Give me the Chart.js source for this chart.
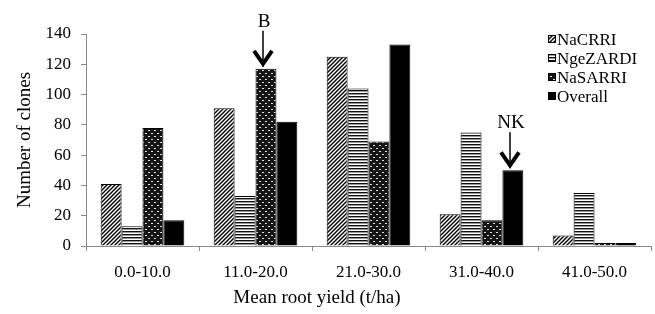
<!DOCTYPE html>
<html>
<head>
<meta charset="utf-8">
<script src="https://cdn.jsdelivr.net/npm/chart.js@4/dist/chart.umd.min.js"></script>
<style>
  html, body { margin: 0; padding: 0; background: #fff; }
  #wrap { width: 655px; height: 314px; }
</style>
</head>
<body>
<div id="wrap"><canvas id="grafico" width="655" height="314"></canvas></div>
<script>
// Datos
const categorias = ["0.0-10.0", "11.0-20.0", "21.0-30.0", "31.0-40.0", "41.0-50.0"];
const nacrri = [41, 91, 125, 21, 7];
const ngezardi = [13, 33, 104, 75, 35];
const nasarri = [78, 117, 69, 17, 2];
const overall = [17, 82, 133, 50, 2];
const series = ["NaCRRI", "NgeZARDI", "NaSARRI", "Overall"];
// Flechas: [serie, categoria, texto]
const flechas = [[2, 1, "B"], [3, 3, "NK"]];

const FUENTE = "'Liberation Serif', 'Times New Roman', serif";

// Patrones de relleno (rayas, lineas, puntos)
function patronDiagonal() {
    const c = document.createElement("canvas");
    c.width = 4; c.height = 4;
    const g = c.getContext("2d");
    g.fillStyle = "#fff";
    g.fillRect(0, 0, 4, 4);
    g.strokeStyle = "#000";
    g.lineWidth = 1.4;
    g.beginPath();
    g.moveTo(-1, 5); g.lineTo(5, -1);
    g.moveTo(-1, 1); g.lineTo(1, -1);
    g.moveTo(3, 5); g.lineTo(5, 3);
    g.stroke();
    return g.createPattern(c, "repeat");
}

function patronHorizontal() {
    const c = document.createElement("canvas");
    c.width = 4; c.height = 3;
    const g = c.getContext("2d");
    g.fillStyle = "#fff";
    g.fillRect(0, 0, 4, 3);
    g.fillStyle = "#111";
    g.fillRect(0, 0, 4, 1);
    g.fillStyle = "#999";
    g.fillRect(0, 1, 4, 1);
    return g.createPattern(c, "repeat");
}

function patronPuntos() {
    const c = document.createElement("canvas");
    c.width = 6; c.height = 6;
    const g = c.getContext("2d");
    g.fillStyle = "#151515";
    g.fillRect(0, 0, 6, 6);
    g.fillStyle = "#e0e0e0";
    g.fillRect(1, 1, 2, 1);
    g.fillRect(4, 4, 2, 1);
    return g.createPattern(c, "repeat");
}

const ctx = document.getElementById("grafico").getContext("2d");
const rellenos = [patronDiagonal(), patronHorizontal(), patronPuntos(), "#000"];
const valores = [nacrri, ngezardi, nasarri, overall];

// Leyenda, titulo del eje x y flechas dibujadas a mano
const extras = {
    id: "extras",
    afterDraw(chart) {
        const g = chart.ctx;
        g.save();
        g.fillStyle = "#000";
        g.font = "19px " + FUENTE;
        g.textAlign = "center";
        g.textBaseline = "middle";
        g.fillText("Mean root yield (t/ha)", 317, 298);

        // leyenda
        g.font = "17px " + FUENTE;
        g.textAlign = "left";
        series.forEach((nombre, i) => {
            const y = 40 + i * 19;
            g.fillStyle = rellenos[i];
            g.fillRect(548, y - 5, 8, 8);
            g.strokeStyle = "#000";
            g.lineWidth = 1;
            g.strokeRect(548.5, y - 4.5, 7, 7);
            g.fillStyle = "#000";
            g.fillText(nombre, 557, y + 1);
        });

        // flechas
        flechas.forEach(([s, c, texto]) => {
            const bar = chart.getDatasetMeta(s).data[c];
            const x = Math.round(bar.x) - 3;
            const tip = bar.y - 2;
            g.strokeStyle = "#000";
            g.fillStyle = "#000";
            g.lineWidth = 1.5;
            g.beginPath();
            g.moveTo(x, tip - 36);
            g.lineTo(x, tip);
            g.stroke();
            g.lineWidth = 4;
            g.beginPath();
            g.moveTo(x - 9, tip - 16);
            g.lineTo(x, tip - 3);
            g.lineTo(x + 9, tip - 16);
            g.stroke();
            g.font = "19px " + FUENTE;
            g.textAlign = "center";
            g.fillText(texto, x + 1, tip - 45);
        });
        g.restore();
    }
};

new Chart(ctx, {
    type: "bar",
    data: {
        labels: categorias,
        datasets: series.map((nombre, i) => ({
            label: nombre,
            data: valores[i],
            backgroundColor: rellenos[i],
            borderColor: "#000",
            borderWidth: 1,
            categoryPercentage: 0.74,
            barPercentage: 1.0
        }))
    },
    options: {
        responsive: false,
        animation: false,
        layout: { padding: { left: 0, right: 4, top: 34, bottom: 0 } },
        plugins: {
            legend: { display: false },
            tooltip: { enabled: false }
        },
        scales: {
            x: {
                grid: { drawOnChartArea: false, color: "#888", tickLength: 5, offset: true },
                border: { color: "#888" },
                ticks: { color: "#000", font: { family: FUENTE, size: 17 }, padding: 11, maxRotation: 0 },
                afterFit(scale) { scale.height = 68; }
            },
            y: {
                min: 0,
                max: 140,
                ticks: { stepSize: 20, color: "#000", font: { family: FUENTE, size: 17 }, padding: 10 },
                grid: { drawOnChartArea: false, color: "#888", tickLength: 5 },
                border: { color: "#888" },
                title: {
                    display: true,
                    text: "Number of clones",
                    color: "#000",
                    font: { family: FUENTE, size: 19 },
                    padding: { top: 14, bottom: 0 }
                },
                afterFit(scale) { scale.width = 86; }
            }
        }
    },
    plugins: [extras]
});
</script>
</body>
</html>
